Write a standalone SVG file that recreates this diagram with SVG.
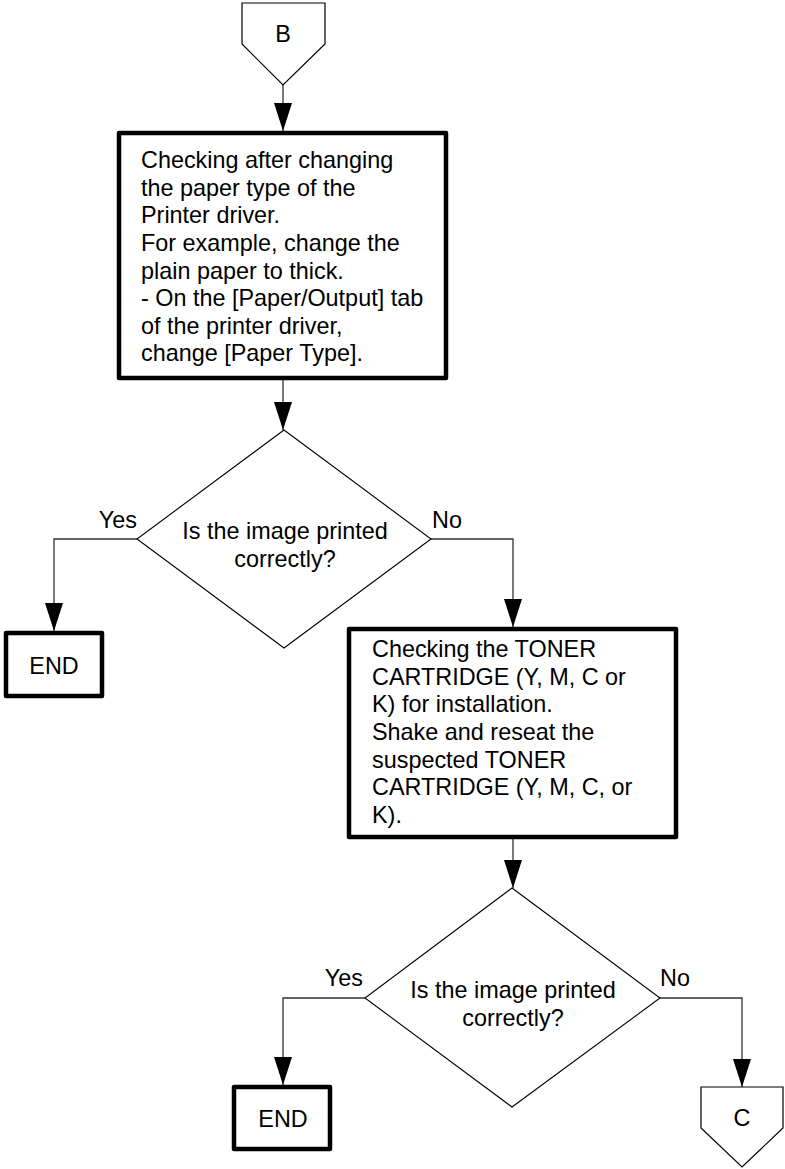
<svg xmlns="http://www.w3.org/2000/svg" width="785" height="1169" viewBox="0 0 785 1169">
  <style>
    text { font-family: "Liberation Sans", Arial, sans-serif; font-size: 23.4px; fill: #000; }
    .mid { text-anchor: middle; }
    .end { text-anchor: end; }
    .proc { fill: #fff; stroke: #000; stroke-width: 4.5; stroke-linejoin: round; }
    .dec { fill: #fff; stroke: #000; stroke-width: 1.1; }
    .conn { fill: #fff; stroke: #000; stroke-width: 1.2; }
    .wire { fill: none; stroke: #333; stroke-width: 1.3; }
  </style>
  <defs>
    <marker id="arrow" markerUnits="userSpaceOnUse" markerWidth="28" markerHeight="18" refX="28" refY="9" orient="auto">
      <path d="M0,0 L28,9 L0,18 Z" fill="#000"/>
    </marker>
  </defs>

  <rect width="785" height="1169" fill="#fff"/>

  <!-- connectors -->
  <g id="connectors" class="wire" marker-end="url(#arrow)">
    <path d="M283,85 V131"/>
    <path d="M283,380 V430"/>
    <path d="M137,539 H54 V631"/>
    <path d="M431,539 H513 V627"/>
    <path d="M513,839 V888"/>
    <path d="M365,998 H283 V1085"/>
    <path d="M660,998 H742 V1087"/>
  </g>

  <!-- off-page connector B -->
  <g id="conn-b">
    <path class="conn" d="M242,3 H325 V44 L283,85 L242,44 Z"/>
    <text class="mid" x="283" y="42">B</text>
  </g>

  <!-- step: change paper type -->
  <g id="step-paper-type">
    <rect class="proc" x="119" y="133" width="327" height="245"/>
    <text x="141" y="168">Checking after changing</text>
    <text x="141" y="196">the paper type of the</text>
    <text x="141" y="223">Printer driver.</text>
    <text x="141" y="251">For example, change the</text>
    <text x="141" y="279">plain paper to thick.</text>
    <text x="141" y="306">- On the [Paper/Output] tab</text>
    <text x="141" y="334">of the printer driver,</text>
    <text x="141" y="361">change [Paper Type].</text>
  </g>

  <!-- decision 1 -->
  <g id="decision-1">
    <path class="dec" d="M284,430 L431,539 L284,648 L137,539 Z"/>
    <text class="mid" x="285" y="539">Is the image printed</text>
    <text class="mid" x="285" y="567">correctly?</text>
    <text class="end" x="137" y="528">Yes</text>
    <text x="432" y="528">No</text>
  </g>

  <!-- end 1 -->
  <g id="end-1">
    <rect class="proc" x="6" y="633" width="96" height="63"/>
    <text class="mid" x="54" y="674">END</text>
  </g>

  <!-- step: toner cartridge -->
  <g id="step-toner">
    <rect class="proc" x="349" y="629" width="327" height="208"/>
    <text x="372" y="657">Checking the TONER</text>
    <text x="372" y="685">CARTRIDGE (Y, M, C or</text>
    <text x="372" y="712">K) for installation.</text>
    <text x="372" y="740">Shake and reseat the</text>
    <text x="372" y="768">suspected TONER</text>
    <text x="372" y="795">CARTRIDGE (Y, M, C, or</text>
    <text x="372" y="823">K).</text>
  </g>

  <!-- decision 2 -->
  <g id="decision-2">
    <path class="dec" d="M512,888 L660,998 L512,1107 L365,998 Z"/>
    <text class="mid" x="513" y="998">Is the image printed</text>
    <text class="mid" x="513" y="1026">correctly?</text>
    <text class="end" x="363" y="986">Yes</text>
    <text x="660" y="986">No</text>
  </g>

  <!-- end 2 -->
  <g id="end-2">
    <rect class="proc" x="234" y="1087" width="96" height="62"/>
    <text class="mid" x="283" y="1127">END</text>
  </g>

  <!-- off-page connector C -->
  <g id="conn-c">
    <path class="conn" d="M701,1087 H783 V1128 L742,1167 L701,1128 Z"/>
    <text class="mid" x="742" y="1126">C</text>
  </g>
</svg>
